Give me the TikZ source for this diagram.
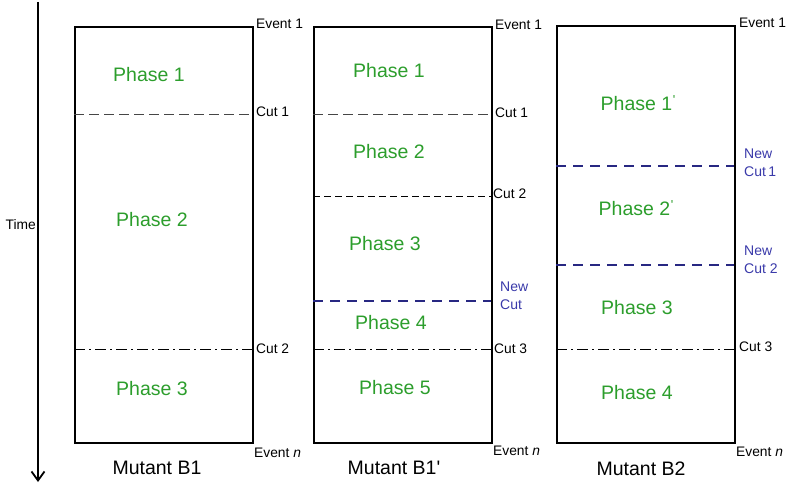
\documentclass[tikz,border=0pt]{standalone}
\usepackage{fontspec}
\setmainfont{Liberation Sans}
\usetikzlibrary{arrows.meta}
\definecolor{phasegreen}{RGB}{44,158,44}
\definecolor{newblue}{RGB}{58,58,170}
\definecolor{newline}{RGB}{40,40,130}
\definecolor{cutgray}{RGB}{70,70,70}
\tikzset{
  box/.style={draw=black,line width=1.8pt,inner sep=0pt,anchor=north west},
  phase/.style={text=phasegreen,font=\fontsize{19.5}{21}\selectfont,inner sep=0pt},
  side/.style={font=\fontsize{13.8}{15}\selectfont,anchor=west,inner sep=0pt},
  newlbl/.style={text=newblue,font=\fontsize{14}{18}\selectfont,anchor=north west,inner sep=0pt,align=left},
  mutant/.style={font=\fontsize{19.5}{21}\selectfont,inner sep=0pt},
  longdash/.style={draw=cutgray,line width=1pt,dash pattern=on 10pt off 5pt},
  shortdash/.style={draw=black,line width=1pt,dash pattern=on 7pt off 4pt},
  dashdot/.style={draw=black,line width=1pt,dash pattern=on 11pt off 4pt on 2pt off 4pt},
  newcut/.style={draw=newline,line width=2pt,dash pattern=on 10pt off 7pt},
}
% small raised tick after a phase number
\newcommand{\phprime}{\kern0.5pt\raisebox{0.32em}{\fontsize{13}{13}\selectfont\textquotesingle}}
\begin{document}
\begin{tikzpicture}[x=1pt,y=-1pt]
\fill[white] (0,0) rectangle (793,487);
\useasboundingbox (0,0) rectangle (793,487);

% time axis
\coordinate (ttop) at (38,2);
\coordinate (tbot) at (38,482);
\draw[line width=1.8pt,-{Straight Barb[length=9pt,width=13pt,line width=1.8pt]}] (ttop) -- (tbot);
\node[side,anchor=east] (time) at (36,225) {Time};

% ---- Mutant B1 ----
\node[box,minimum width=178pt,minimum height=416pt] (b1) at (74,26) {};
\coordinate (b1c1l) at (74,114); \coordinate (b1c1r) at (252,114);
\coordinate (b1c2l) at (74,349); \coordinate (b1c2r) at (252,349);
\draw[longdash] (b1c1l) -- (b1c1r);
\draw[dashdot] (b1c2l) -- (b1c2r);
\node[phase] (b1p1) at (149,75) {Phase 1};
\node[phase] (b1p2) at (152,220) {Phase 2};
\node[phase] (b1p3) at (152,389) {Phase 3};
\node[side] (b1e1) at (256,24) {Event 1};
\node[side] (b1cut1) at (256,112) {Cut 1};
\node[side] (b1cut2) at (256,349) {Cut 2};
\node[side] (b1en) at (254,453) {Event \textit{n}};
\node[mutant] (b1m) at (157,468) {Mutant B1};

% ---- Mutant B1' ----
\node[box,minimum width=178pt,minimum height=416pt] (b2) at (313,26) {};
\coordinate (b2c1l) at (313,114); \coordinate (b2c1r) at (491,114);
\coordinate (b2c2l) at (313,196); \coordinate (b2c2r) at (491,196);
\coordinate (b2nl) at (313,301); \coordinate (b2nr) at (491,301);
\coordinate (b2c3l) at (313,349); \coordinate (b2c3r) at (491,349);
\draw[longdash] (b2c1l) -- (b2c1r);
\draw[shortdash] (b2c2l) -- (b2c2r);
\draw[newcut] (b2nl) -- (b2nr);
\draw[dashdot] (b2c3l) -- (b2c3r);
\node[phase] (b2p1) at (389,71) {Phase 1};
\node[phase] (b2p2) at (389,152) {Phase 2};
\node[phase] (b2p3) at (385,244) {Phase 3};
\node[phase] (b2p4) at (391,323) {Phase 4};
\node[phase] (b2p5) at (395,388) {Phase 5};
\node[side] (b2e1) at (495,25) {Event 1};
\node[side] (b2cut1) at (495,113) {Cut 1};
\node[side] (b2cut2) at (493,194) {Cut 2};
\node[newlbl] (b2new) at (500,282) {New\\Cut};
\node[side] (b2cut3) at (494,349) {Cut 3};
\node[side] (b2en) at (493,451) {Event \textit{n}};
\node[mutant] (b2m) at (394,468) {Mutant B1\textquotesingle};

% ---- Mutant B2 ----
\node[box,minimum width=178pt,minimum height=417pt] (b3) at (556,25) {};
\coordinate (b3n1l) at (556,166); \coordinate (b3n1r) at (734,166);
\coordinate (b3n2l) at (556,265); \coordinate (b3n2r) at (734,265);
\coordinate (b3c3l) at (556,349); \coordinate (b3c3r) at (734,349);
\draw[newcut] (b3n1l) -- (b3n1r);
\draw[newcut] (b3n2l) -- (b3n2r);
\draw[dashdot] (b3c3l) -- (b3c3r);
\node[phase] (b3p1) at (638,103) {Phase 1\phprime};
\node[phase] (b3p2) at (636,208) {Phase 2\phprime};
\node[phase] (b3p3) at (637,308) {Phase 3};
\node[phase] (b3p4) at (637,393) {Phase 4};
\node[side] (b3e1) at (739,23) {Event 1};
\node[newlbl] (b3new1) at (744,149) {New\\Cut\,1};
\node[newlbl] (b3new2) at (744,246) {New\\Cut 2};
\node[side] (b3cut3) at (739,347) {Cut 3};
\node[side] (b3en) at (736,452) {Event \textit{n}};
\node[mutant] (b3m) at (641,469) {Mutant B2};
\end{tikzpicture}
\end{document}
